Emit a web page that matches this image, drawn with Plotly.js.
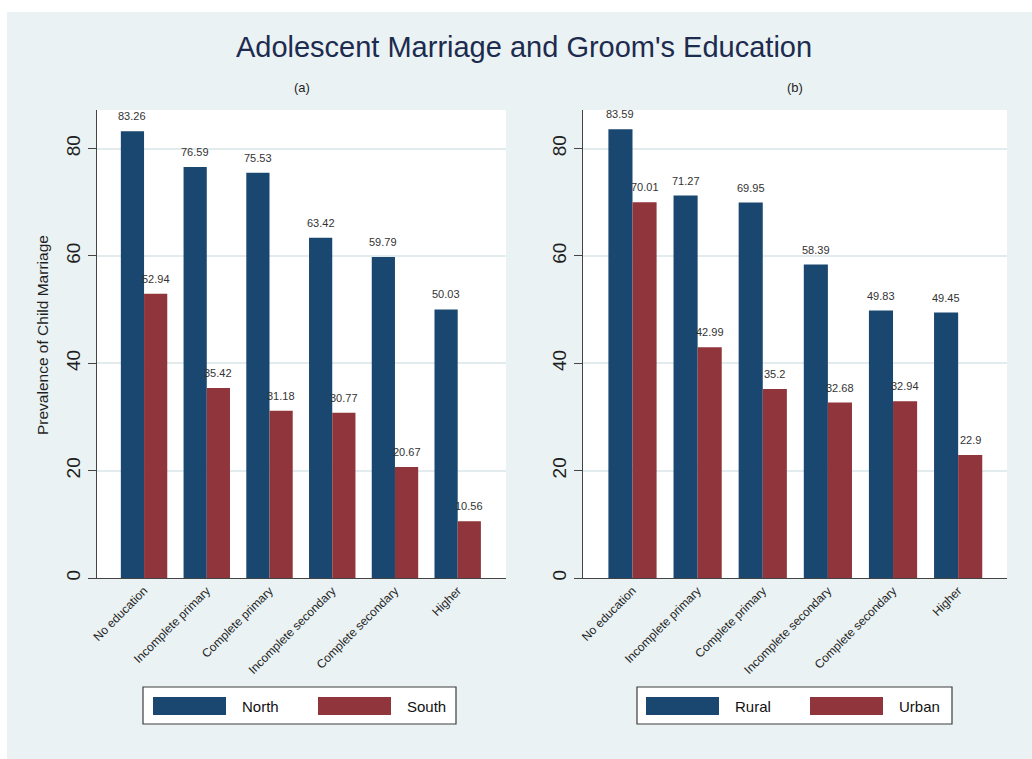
<!DOCTYPE html>
<html>
<head>
<meta charset="utf-8">
<script src="https://cdn.plot.ly/plotly-3.0.1.min.js"></script>
<style>
  html, body { margin: 0; padding: 0; background: #ffffff; }
  #chart { width: 1032px; height: 759px; }
</style>
</head>
<body>
<div id="chart"></div>
<script>
// Education level of the groom
const categories = ['No education', 'Incomplete primary', 'Complete primary',
                    'Incomplete secondary', 'Complete secondary', 'Higher'];

// Panel (a): region
const north = [83.26, 76.59, 75.53, 63.42, 59.79, 50.03];
const south = [52.94, 35.42, 31.18, 30.77, 20.67, 10.56];

// Panel (b): place of residence
const rural = [83.59, 71.27, 69.95, 58.39, 49.83, 49.45];
const urban = [70.01, 42.99, 35.2, 32.68, 32.94, 22.9];

const seriesA = ['North', 'South'];
const seriesB = ['Rural', 'Urban'];
const panelLabels = ['(a)', '(b)'];
const yTicks = [0, 20, 40, 60, 80];

const W = 1032, H = 759;
const NAVY = '#1a476f', MAROON = '#90353b';
const BG = '#eaf2f3';
const GRID = '#e2ecee';
const FONT = 'Liberation Sans, Arial, sans-serif';
const TEXT = '#1f1f1f';

// pixel helpers for paper coordinates
const px = v => v / W;
const py = v => 1 - v / H;

const BARGAP = 0.26;
const half = (1 - BARGAP) / 4;   // offset of each bar centre from the category centre

function bar(x, y, name, color, xa, ya) {
  return {
    type: 'bar', x: x, y: y, name: name, xaxis: xa, yaxis: ya,
    marker: { color: color, line: { color: color, width: 0 } },
    hoverinfo: 'x+y', showlegend: false
  };
}

const data = [
  bar(categories, north, seriesA[0], NAVY, 'x', 'y'),
  bar(categories, south, seriesA[1], MAROON, 'x', 'y'),
  bar(categories, rural, seriesB[0], NAVY, 'x2', 'y2'),
  bar(categories, urban, seriesB[1], MAROON, 'x2', 'y2')
];

// value labels above every bar
const annotations = [];
function valueLabels(vals, side, xref, yref) {
  vals.forEach((v, i) => {
    annotations.push({
      x: i + side * half, y: v, xref: xref, yref: yref,
      text: String(v), showarrow: false,
      xanchor: 'center', yanchor: 'bottom', yshift: 7,
      font: { family: FONT, size: 11, color: '#333333' }
    });
  });
}
valueLabels(north, -1, 'x', 'y');
valueLabels(south, 1, 'x', 'y');
valueLabels(rural, -1, 'x2', 'y2');
valueLabels(urban, 1, 'x2', 'y2');

// panel captions
annotations.push({ x: px(302), y: py(87), xref: 'paper', yref: 'paper', text: panelLabels[0],
  showarrow: false, xanchor: 'center', yanchor: 'middle', font: { family: FONT, size: 13, color: TEXT } });
annotations.push({ x: px(795), y: py(87), xref: 'paper', yref: 'paper', text: panelLabels[1],
  showarrow: false, xanchor: 'center', yanchor: 'middle', font: { family: FONT, size: 13, color: TEXT } });

// y-axis title for the left panel
annotations.push({ x: px(42), y: py(335), xref: 'paper', yref: 'paper',
  text: 'Prevalence of Child Marriage', textangle: -90, showarrow: false,
  xanchor: 'center', yanchor: 'middle', font: { family: FONT, size: 15.5, color: TEXT } });

// white frame around the grey graph region
const shapes = [
  { type: 'rect', xref: 'paper', yref: 'paper', x0: 0, x1: 1, y0: py(12), y1: 1,
    fillcolor: '#ffffff', line: { width: 0 }, layer: 'below' },
  { type: 'rect', xref: 'paper', yref: 'paper', x0: 0, x1: px(7), y0: 0, y1: 1,
    fillcolor: '#ffffff', line: { width: 0 }, layer: 'below' }
];

// legend box with two wide colour keys
function legendBox(left, right, keys, labels) {
  shapes.push({ type: 'rect', xref: 'paper', yref: 'paper',
    x0: px(left), x1: px(right), y0: py(724), y1: py(687),
    fillcolor: '#ffffff', line: { color: '#3c3c3c', width: 1.2 } });
  keys.forEach((k, i) => {
    shapes.push({ type: 'rect', xref: 'paper', yref: 'paper',
      x0: px(k), x1: px(k + 73), y0: py(715), y1: py(697),
      fillcolor: i === 0 ? NAVY : MAROON, line: { width: 0 } });
    annotations.push({ x: px(k + 87), y: py(706), xref: 'paper', yref: 'paper',
      text: labels[i], showarrow: false, xanchor: 'left', yanchor: 'middle',
      font: { family: FONT, size: 15, color: '#111111' } });
  });
}
legendBox(143, 456, [153, 318], seriesA);
legendBox(637, 952, [646, 810], seriesB);

function yAxis(domainAnchor) {
  return {
    domain: [(H - 578) / H, (H - 110) / H], anchor: domainAnchor,
    range: [0, 87.2], tickvals: yTicks, ticktext: yTicks.map(String),
    tickangle: -90, ticks: 'outside', ticklen: 8, tickwidth: 1, tickcolor: '#444444',
    showline: true, linecolor: '#444444', linewidth: 1,
    showgrid: true, gridcolor: GRID, gridwidth: 2, zeroline: false,
    tickfont: { family: FONT, size: 19, color: TEXT }, fixedrange: true
  };
}
function xAxis(domain, range, domainAnchor) {
  return {
    domain: domain, anchor: domainAnchor, type: 'category', range: range,
    tickangle: -45, ticks: '', showline: true, linecolor: '#444444', linewidth: 1,
    showgrid: false, zeroline: false,
    tickfont: { family: FONT, size: 12, color: TEXT }, fixedrange: true
  };
}

const layout = {
  width: W, height: H,
  margin: { l: 0, r: 0, t: 0, b: 0 },
  paper_bgcolor: BG, plot_bgcolor: '#ffffff',
  barmode: 'group', bargap: BARGAP, bargroupgap: 0,
  showlegend: false,
  title: {
    text: "Adolescent Marriage and Groom's Education",
    x: px(524), y: py(47), xanchor: 'center', yanchor: 'middle',
    xref: 'paper', yref: 'paper',
    font: { family: FONT, size: 29, color: '#1c2b4e' }
  },
  xaxis: xAxis([px(97), px(506)], [-0.75, 5.77], 'y'),
  yaxis: yAxis('x'),
  xaxis2: xAxis([px(583), px(1007)], [-0.76, 5.75], 'y2'),
  yaxis2: yAxis('x2'),
  shapes: shapes,
  annotations: annotations
};

Plotly.newPlot('chart', data, layout, { displayModeBar: false, staticPlot: true });
</script>
</body>
</html>
